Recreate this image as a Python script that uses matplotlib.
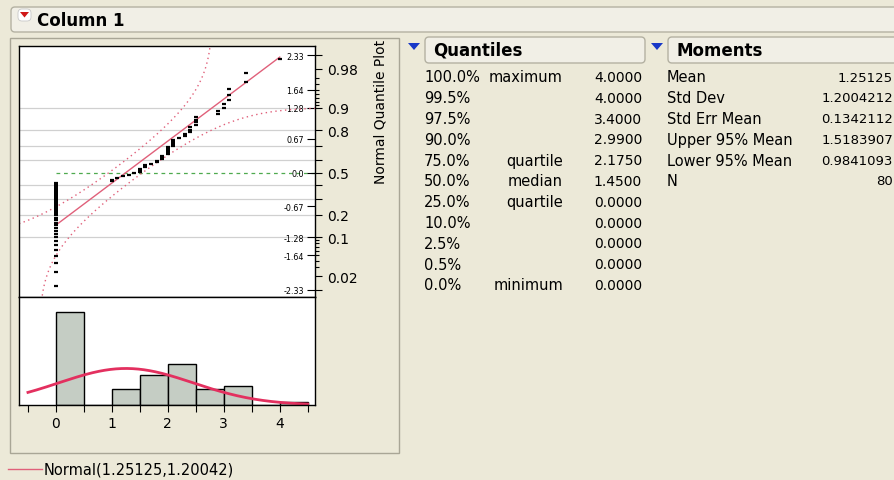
import numpy as np
import matplotlib
matplotlib.use("Agg")
import matplotlib.pyplot as plt
from matplotlib.patches import FancyBboxPatch, Rectangle, Polygon
from statistics import NormalDist

plt.rcParams['font.family'] = ['DejaVu Sans']

# Column 1: distinct values and how many times each occurs (n = 80)
values = [0.0, 1.0, 1.1, 1.2, 1.3, 1.4, 1.5, 1.6, 1.7, 1.8, 1.9,
          2.0, 2.1, 2.2, 2.3, 2.4, 2.5, 2.9, 3.0, 3.1, 3.4, 4.0]
counts = [34, 2, 1, 1, 1, 1, 3, 2, 1, 2, 3,
          5, 4, 1, 2, 3, 4, 2, 2, 3, 2, 1]

# fitted normal
fit_mean = 1.25125
fit_sd = 1.20042

# report tables
quant_pct = ['100.0%', '99.5%', '97.5%', '90.0%', '75.0%', '50.0%',
             '25.0%', '10.0%', '2.5%', '0.5%', '0.0%']
quant_lbl = ['maximum', '', '', '', 'quartile', 'median',
             'quartile', '', '', '', 'minimum']
quant_val = ['4.0000', '4.0000', '3.4000', '2.9900', '2.1750', '1.4500',
             '0.0000', '0.0000', '0.0000', '0.0000', '0.0000']
mom_lbl = ['Mean', 'Std Dev', 'Std Err Mean', 'Upper 95% Mean',
           'Lower 95% Mean', 'N']
mom_val = ['1.25125', '1.2004212', '0.1342112', '1.5183907', '0.9841093', '80']

# axis labels for the quantile plot
q_ticks = [2.33, 1.64, 1.28, 0.67, 0.0, -0.67, -1.28, -1.64, -2.33]
q_ticklabels = ['2.33', '1.64', '1.28', '0.67', '0.0', '-0.67', '-1.28', '-1.64', '-2.33']
prob_major = [0.99, 0.98, 0.9, 0.8, 0.7, 0.6, 0.5, 0.4, 0.3, 0.2, 0.1, 0.02, 0.01]
prob_labeled = [0.98, 0.9, 0.8, 0.5, 0.2, 0.1, 0.02]
prob_minor = [0.97, 0.96, 0.95, 0.94, 0.93, 0.92, 0.91,
              0.09, 0.08, 0.07, 0.06, 0.05, 0.04, 0.03]

BG = '#ECE9D8'
RED = '#E0607A'
CURVE = '#E3305F'
BAR = '#C5CDC4'
W, H = 894, 481

nd = NormalDist()
data = np.repeat(values, counts)
n = len(data)


def box(l, t, r, b):
    return [l / W, 1 - b / H, (r - l) / W, (b - t) / H]


fig = plt.figure(figsize=(W / 100, H / 100), dpi=100, facecolor=BG)

# background layer in pixel coordinates for the report chrome
bg = fig.add_axes([0, 0, 1, 1], zorder=-1)
bg.set_xlim(0, W)
bg.set_ylim(H, 0)
bg.axis('off')

bg.add_patch(FancyBboxPatch((11, 8), 900, 25, boxstyle='round,pad=0,rounding_size=4',
                            fc='#F1EFE6', ec='#B4B1A2', lw=1))
bg.add_patch(FancyBboxPatch((18, 10), 13, 12, boxstyle='round,pad=0,rounding_size=4',
                            fc='white', ec='#C8C8C8', lw=0.6))
bg.add_patch(Polygon([(20, 13), (29, 13), (24.5, 18.5)], closed=True, fc='#D01818', ec='none'))
bg.text(37, 21, 'Column 1', fontsize=12, fontweight='bold', va='center', ha='left')

bg.add_patch(Rectangle((10, 39), 389, 415, fc='none', ec='#A9A696', lw=1))

for bx0, bx1, title, tri in [(425, 645, 'Quantiles', 414), (668, 910, 'Moments', 657)]:
    bg.add_patch(FancyBboxPatch((bx0, 38), bx1 - bx0, 26, boxstyle='round,pad=0,rounding_size=4',
                                fc='#F1EFE6', ec='#B4B1A2', lw=1))
    bg.text(bx0 + 8, 51, title, fontsize=12, fontweight='bold', va='center', ha='left')
    bg.add_patch(Polygon([(tri - 6, 44), (tri + 6, 44), (tri, 51)], closed=True, fc='#1838C8', ec='none'))

row_y = 78 + 20.8 * np.arange(len(quant_pct))
for y, p, lb, v in zip(row_y, quant_pct, quant_lbl, quant_val):
    bg.text(424, y, p, fontsize=10.5, va='center', ha='left')
    bg.text(563, y, lb, fontsize=10.5, va='center', ha='right')
    bg.text(642, y, v, fontsize=10, va='center', ha='right')
for y, lb, v in zip(row_y, mom_lbl, mom_val):
    bg.text(667, y, lb, fontsize=10.5, va='center', ha='left')
    bg.text(893, y, v, fontsize=9.5, va='center', ha='right')

bg.text(381, 112, 'Normal Quantile Plot', fontsize=10, rotation=90, va='center', ha='center')

bg.plot([8, 42], [470, 470], color=RED, lw=1)
bg.text(44, 470, 'Normal(1.25125,1.20042)', fontsize=10.5, va='center', ha='left')

xlim = (-0.66, 4.63)

# normal quantile plot
ax_qq = fig.add_axes(box(19, 47, 315, 298))
ax_qq.set_facecolor('white')
ax_qq.set_xlim(xlim)
ax_qq.set_ylim(-2.47, 2.51)

# probability scale on the right (twinx first, it resets the host's tick side)
ax_p = ax_qq.twinx()
ax_p.set_ylim(ax_qq.get_ylim())
ax_p.set_yticks([nd.inv_cdf(p) for p in prob_major])
ax_p.set_yticklabels([f'{p:g}' if p in prob_labeled else '' for p in prob_major])
ax_p.set_yticks([nd.inv_cdf(p) for p in prob_minor], minor=True)
ax_p.tick_params(axis='y', which='major', length=5, width=0.8, pad=4, labelsize=10)
ax_p.tick_params(axis='y', which='minor', length=3, width=0.8)
for s in ax_p.spines.values():
    s.set_visible(False)

for p in [0.1, 0.2, 0.3, 0.4, 0.6, 0.7, 0.8, 0.9]:
    ax_qq.axhline(nd.inv_cdf(p), color='#D0D0D0', lw=0.9, zorder=1)
ax_qq.plot([0, xlim[1]], [0, 0], color='#4FAA4F', lw=0.9, ls=(0, (3, 3)), zorder=1)

xs = np.linspace(xlim[0], xlim[1], 600)
pfit = np.array([nd.cdf((x - fit_mean) / fit_sd) for x in xs])
d = 0.886 / np.sqrt(n)
up = pfit + d < 0.9999
lo = pfit - d > 0.0001
ax_qq.plot(xs[up], [nd.inv_cdf(q) for q in pfit[up] + d], color=RED, lw=1, ls=(0, (1, 2.5)), zorder=2)
ax_qq.plot(xs[lo], [nd.inv_cdf(q) for q in pfit[lo] - d], color=RED, lw=1, ls=(0, (1, 2.5)), zorder=2)

line_x = np.array([data.min(), data.max()])
ax_qq.plot(line_x, (line_x - fit_mean) / fit_sd, color=RED, lw=1, zorder=3)

ranks = np.arange(1, n + 1)
zq = [nd.inv_cdf(r / (n + 1)) for r in ranks]
ax_qq.plot(np.sort(data), zq, '_', ms=3, mew=1.6, color='black', zorder=4)

ax_qq.tick_params(axis='x', bottom=False, labelbottom=False)
ax_qq.yaxis.tick_right()
ax_qq.set_yticks(q_ticks)
ax_qq.set_yticklabels(q_ticklabels)
ax_qq.tick_params(axis='y', direction='in', length=6, width=0.8, pad=-8, labelsize=5.8)
for t in ax_qq.yaxis.get_ticklabels(which='major'):
    t.set_horizontalalignment('right')
for s in ax_qq.spines.values():
    s.set_linewidth(1)

# histogram with fitted normal curve
ax_h = fig.add_axes(box(19, 298, 315, 406))
ax_h.set_facecolor('white')
ax_h.hist(data, bins=np.arange(0, 4.51, 0.5), color=BAR, edgecolor='black', lw=1)
xc = np.linspace(-0.5, 4.5, 300)
dens = np.array([nd.pdf((x - fit_mean) / fit_sd) for x in xc]) / fit_sd
ax_h.plot(xc, dens * n * 0.5, color=CURVE, lw=2)
ax_h.set_xlim(xlim)
ax_h.set_ylim(0, 39.3)
ax_h.set_yticks([])
hx = np.arange(-0.5, 4.51, 0.5)
ax_h.set_xticks(hx)
ax_h.set_xticklabels([str(int(v)) if v == int(v) else '' for v in hx])
ax_h.tick_params(axis='x', length=5, width=0.8, pad=3, labelsize=10)
for s in ax_h.spines.values():
    s.set_linewidth(1)

fig.savefig('out.png', dpi=100, facecolor=BG)
